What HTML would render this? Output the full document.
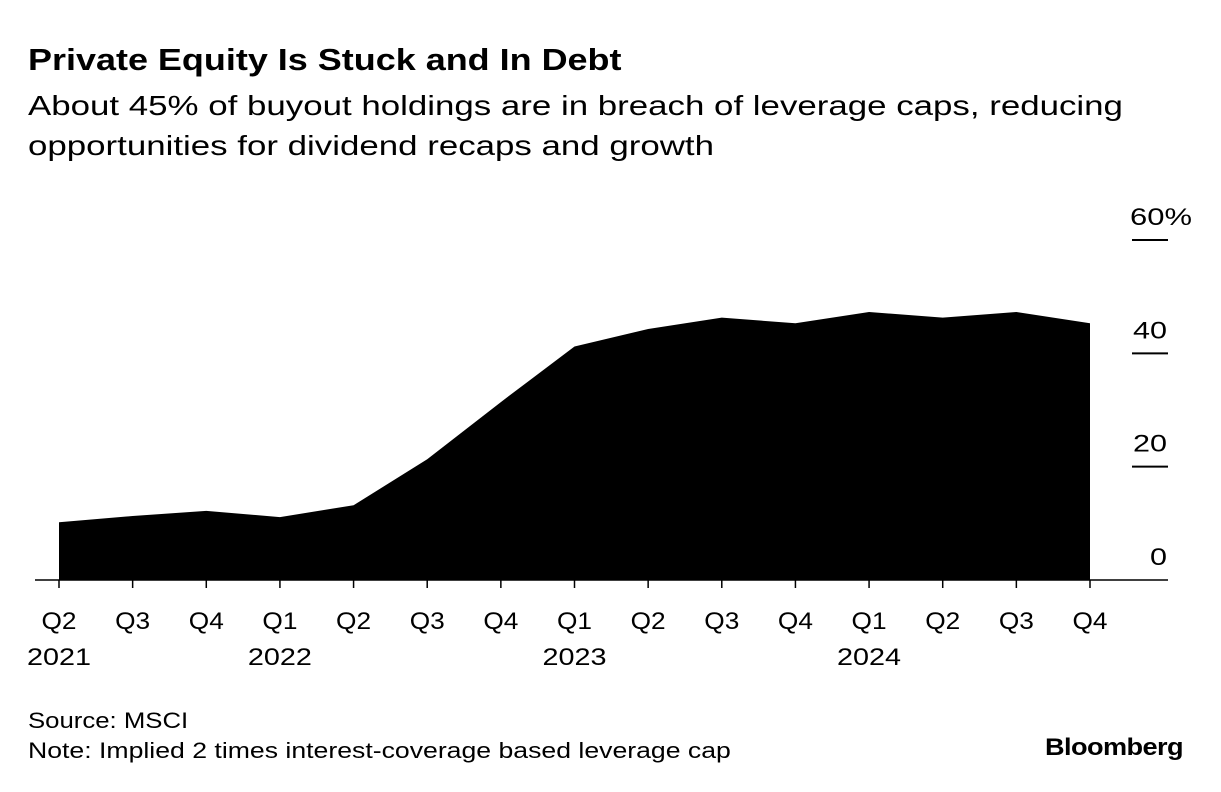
<!DOCTYPE html>
<html><head><meta charset="utf-8"><style>
body{margin:0;background:#fff;font-family:"Liberation Sans",sans-serif;color:#000}
#wrap{position:relative;width:1221px;height:792px;overflow:hidden}
.t{position:absolute;white-space:nowrap;transform-origin:0 0}
</style></head><body>
<div id="wrap">
<div class="t" style="left:28px;top:42px;font-size:31px;font-weight:bold;transform:scaleX(1.16)">Private Equity Is Stuck and In Debt</div>
<div class="t" style="left:28px;top:86px;font-size:28px;line-height:40px;transform:scaleX(1.245)">About 45% of buyout holdings are in breach of leverage caps, reducing<br>opportunities for dividend recaps and growth</div>
<svg id="chart" width="1221" height="792" style="position:absolute;left:0;top:0" font-family="Liberation Sans, sans-serif"></svg>
<div class="t" style="left:28px;top:708px;font-size:22px;transform:scaleX(1.17)">Source: MSCI</div>
<div class="t" style="left:28px;top:738px;font-size:22px;transform:scaleX(1.21)">Note: Implied 2 times interest-coverage based leverage cap</div>
<div class="t" style="left:1045px;top:734px;font-size:24px;font-weight:bold;letter-spacing:-0.5px;transform:scaleX(1.13)">Bloomberg</div>
</div>
<script>
const quarters=["Q2","Q3","Q4","Q1","Q2","Q3","Q4","Q1","Q2","Q3","Q4","Q1","Q2","Q3","Q4"];
const years=["2021","","","2022","","","","2023","","","","2024","","",""];
const values=[10.2,11.3,12.2,11.1,13.2,21.3,31.4,41.2,44.3,46.3,45.3,47.3,46.3,47.3,45.3];
const yTicks=[0,20,40,60];
const yTickLabels=["0","20","40","60%"];
const NS="http://www.w3.org/2000/svg";
const svg=document.getElementById('chart');
const x=i=>59+i*(1090-59)/(quarters.length-1);
const y=v=>580-v*(580-240)/60;
function mk(t,a){const e=document.createElementNS(NS,t);for(const k in a)e.setAttribute(k,a[k]);svg.appendChild(e);return e;}
let d="M"+x(0)+","+y(0);
values.forEach((v,i)=>{d+=" L"+x(i)+","+y(v);});
d+=" L"+x(values.length-1)+","+y(0)+" Z";
const area=mk('path',{d:d,fill:'#000'});


const base=mk('line',{x1:35,x2:1168,y1:y(0),y2:y(0),stroke:'#000','stroke-width':1.5});


yTicks.forEach((t,i)=>{
  if(t>0){const l=mk('line',{x1:1132,x2:1168,y1:y(t),y2:y(t),stroke:'#000','stroke-width':2});
  
  }
  const tx=mk('text',{x:t===60?1130:1167,y:y(t)-15,'font-size':24,'text-anchor':t===60?'start':'end',textLength:t===60?62:(t===0?17:34),lengthAdjust:'spacingAndGlyphs'});
  tx.textContent=yTickLabels[i];
  
  
});
quarters.forEach((q,i)=>{
  const tk=mk('line',{x1:x(i),x2:x(i),y1:580,y2:588,stroke:'#000','stroke-width':1.5});
  
  
  const tx=mk('text',{x:x(i),y:629,'font-size':24,'text-anchor':'middle',textLength:35,lengthAdjust:'spacingAndGlyphs'});
  tx.textContent=q;
  
  
  if(years[i]){const yt=mk('text',{x:x(i),y:665,'font-size':24,'text-anchor':'middle',textLength:64,lengthAdjust:'spacingAndGlyphs'});
  yt.textContent=years[i];
  
  }
});
</script>
</body></html>
